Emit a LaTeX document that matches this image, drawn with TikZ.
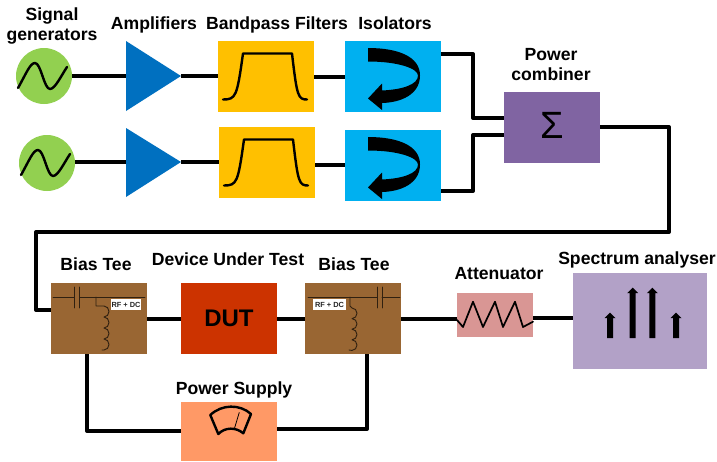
\documentclass[tikz,border=0pt]{standalone}
\usepackage{fontspec}
\setmainfont{Liberation Sans}
\begin{document}
\begin{tikzpicture}[x=1pt,y=-1pt,
  box/.style={draw=none,inner sep=0pt,outer sep=0pt,minimum width=96pt,minimum height=71pt},
  title/.style={inner sep=0pt,outer sep=0pt,font=\fontsize{17.6}{20}\bfseries\selectfont,align=center,anchor=base},
  wire/.style={line width=4pt,line join=round,black},
  ink/.style={line width=2.4pt,black,line join=round,line cap=round},
  thin/.style={line width=.9pt,draw=black!75!brown,line cap=round,line join=round},
  tag/.style={fill=white,inner sep=0pt,minimum width=30pt,minimum height=10.5pt,font=\fontsize{7.4}{8}\bfseries\selectfont,text=black!85},
  sigbox/.style={circle,fill=c1,inner sep=0pt,outer sep=0pt,minimum size=56pt}]
\definecolor{c1}{HTML}{92D050}\definecolor{ampc}{HTML}{0070C0}\definecolor{filt}{HTML}{FFC000}
\definecolor{iso}{HTML}{00B0F0}\definecolor{comb}{HTML}{8064A2}\definecolor{tee}{HTML}{996633}
\definecolor{dutc}{HTML}{CC3300}\definecolor{psu}{HTML}{FF9966}\definecolor{att}{HTML}{D99694}\definecolor{spec}{HTML}{B2A1C7}
\useasboundingbox (0,0) rectangle (717,461);
% amplifiers as named coordinates plus triangles
\coordinate (a1in) at (126,76);\coordinate (a1out) at (181,76);
\coordinate (a2in) at (126,162);\coordinate (a2out) at (181,162);
% blocks
\node[sigbox] (s1) at (44,76) {};
\node[sigbox] (s2) at (47,163) {};
\node[box,fill=filt] (f1) at (266,76.5) {};
\node[box,fill=filt] (f2) at (267,162.5) {};
\node[box,fill=iso] (i1) at (393,76.5) {};
\node[box,fill=iso] (i2) at (393,165.5) {};
\node[box,fill=comb] (pc) at (552,127.5) {};
\node[box,fill=tee] (t1) at (99,318.5) {};
\node[box,fill=dutc,font=\fontsize{24}{26}\bfseries\selectfont] (dut) at (229,318.5) {DUT};
\node[box,fill=tee] (t2) at (353,318.5) {};
\node[box,fill=att,minimum width=76pt,minimum height=44pt] (at) at (495,315) {};
\node[box,fill=spec,minimum width=134pt,minimum height=96pt] (sa) at (640,321) {};
\node[box,fill=psu,minimum height=59pt] (ps) at (229,431.5) {};
% connectors
\coordinate (i1o) at (441,54);\coordinate (i2o) at (441,191);
\coordinate (pc1) at (504,118);\coordinate (pc2) at (504,135);
\coordinate (pco) at (600,127);\coordinate (t1i) at (51,310);
\coordinate (t1b) at (87,354);\coordinate (t2b) at (367,354);
\coordinate (ps1) at (181,431);\coordinate (ps2) at (277,429);
\coordinate (f2o) at (315,164.5);\coordinate (i2i) at (345,164.5);
\coordinate (s2o) at (75,162);\coordinate (f2i) at (219,162);
\coordinate (ato) at (533,318);\coordinate (sai) at (573,318);
\draw[wire] (s1.east) -- (a1in);
\draw[wire] (a1out) -- (a1out -| f1.west);
\draw[wire] (f1.east) -- (i1.west);
\draw[wire] (s2o) -- (a2in);
\draw[wire] (a2out) -- (f2i);
\draw[wire] (f2o) -- (i2i);
\draw[wire] (i1o) -- (473,54) -- (473,118) -- (pc1);
\draw[wire] (i2o) -- (473,191) -- (473,135) -- (pc2);
\draw[wire] (pco) -- (669,127) -- (669,232) -- (36,232) -- (36,310) -- (t1i);
\draw[wire] (t1.east) -- (dut.west);
\draw[wire] (dut.east) -- (t2.west);
\draw[wire] (t2.east) -- (t2.east -| at.west);
\draw[wire] (ato) -- (sai);
\draw[wire] (t1b) -- (87,431) -- (ps1);
\draw[wire] (t2b) -- (367,429) -- (ps2);
% amplifier triangles
\fill[ampc] (126,41) -- (181,76) -- (126,111) -- cycle;
\fill[ampc] (126,128) -- (181,162) -- (126,197) -- cycle;
% sine icons
\foreach \c in {s1,s2}
  \draw[ink,shift={(\c.center)}] (-26,12) .. controls (-18,-2) and (-14,-13) .. (-9,-13) .. controls (-3,-13) and (0,13) .. (6,13) .. controls (11,13) and (17,0) .. (23,-9);
% filter icons
\foreach \c in {f1,f2}
  \draw[ink,shift={(\c.center)}] (-43,23) .. controls (-30,23) and (-29,20) .. (-23,-23) -- (26,-23) .. controls (31,20) and (32,23) .. (41,23);
% isolator icons
\foreach \c in {i1,i2}
  \fill[black,shift={(\c.center)}] (-25,-28.5) .. controls (5,-28.5) and (27,-20) .. (27,-1) .. controls (27,18) and (8,26) .. (-11,26.5) -- (-11,33.5) -- (-25,22) -- (-11,7) -- (-11,14) .. controls (10,13) and (25,8) .. (25,-1) .. controls (25,-8) and (5,-15) .. (-25,-15) -- cycle;
% combiner symbol
\node[inner sep=0pt,font=\fontsize{38}{40}\selectfont] (sig) at (552,125) {Σ};
% bias tee 1
\draw[thin] (53,297) -- (74.5,297) (74.5,287) -- (74.5,308) (79.5,287) -- (79.5,308) (79.5,297) -- (145,297);
\draw[thin] (96,297) -- (96,306) -- (104,306) arc[start angle=-90,end angle=90,x radius=5,y radius=5.5] arc[start angle=-90,end angle=90,x radius=5,y radius=5.5] arc[start angle=-90,end angle=90,x radius=5,y radius=5.5] arc[start angle=-90,end angle=90,x radius=5,y radius=5.5] -- (102,350);
\node[tag] (tag1) at (126,304.5) {RF + DC};
% bias tee 2
\draw[thin] (308,297) -- (377,297) (377,287) -- (377,308) (382,287) -- (382,308) (382,297) -- (400,297);
\draw[thin] (350,297) -- (350,306) -- (352,308) arc[start angle=-90,end angle=90,x radius=5,y radius=5.3] arc[start angle=-90,end angle=90,x radius=5,y radius=5.3] arc[start angle=-90,end angle=90,x radius=5,y radius=5.3] arc[start angle=-90,end angle=90,x radius=5,y radius=5.3] -- (349,350);
\node[tag,minimum width=33pt] (tag2) at (329.5,304.5) {RF + DC};
% attenuator
\draw[ink,line width=1.7pt] (457,320) -- (463,327) -- (473,301.7) -- (483,327) -- (495,301.7) -- (503,327) -- (515,301.7) -- (523,327) -- (533,321.7);
% spectrum
\foreach \x/\t in {610/312.7,632.7/287.7,652.3/287.7,676/312.7}
  \fill[black] (\x-3,338) -- (\x-3,\t+5.5) -- (\x-5.5,\t+5.5) -- (\x,\t) -- (\x+5.5,\t+5.5) -- (\x+3,\t+5.5) -- (\x+3,338) -- cycle;
% meter
\draw[ink] (210.3,415) .. controls (222,404) and (240,404) .. (251,414) -- (243.3,433.3) .. controls (236,427) and (225,427) .. (218.3,434) -- cycle;
\draw[black,line width=.8pt] (239.3,412.3) -- (234,430);
% titles
\node[title] (lsg) at (52,40) {Signal\\generators};
\node[title] (lamp) at (154,29.3) {Amplifiers};
\node[title] (lbp) at (277,29.3) {Bandpass Filters};
\node[title] (liso) at (395,29.3) {Isolators};
\node[title] (lpc) at (551,80) {Power\\combiner};
\node[title] (lt1) at (96,270) {Bias Tee};
\node[title] (ldut) at (228,265) {Device Under Test};
\node[title] (lt2) at (354,270) {Bias Tee};
\node[title] (lat) at (499,279) {Attenuator};
\node[title] (lsa) at (637,264) {Spectrum analyser};
\node[title] (lps) at (234,394) {Power Supply};
\end{tikzpicture}
\end{document}
